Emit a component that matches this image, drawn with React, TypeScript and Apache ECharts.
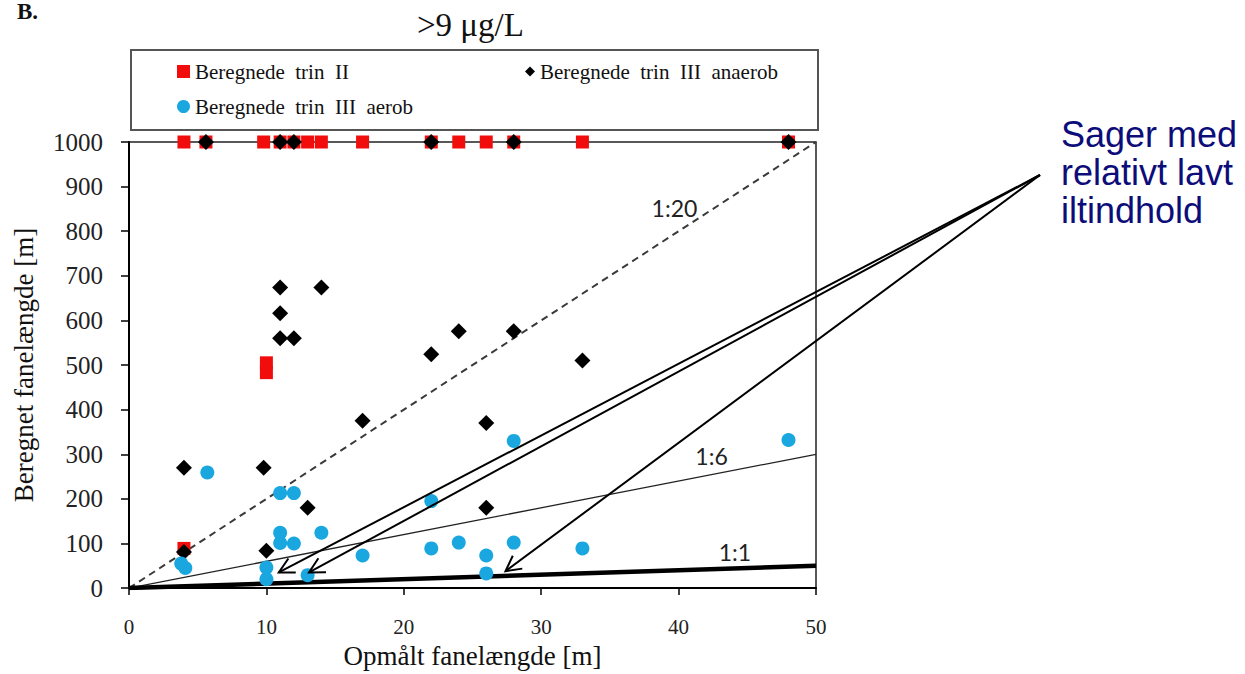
import { useEffect, useRef } from "react";
import * as echarts from "echarts";

// Series names, as they appear in the legend
const seriesNames = ["Beregnede trin II", "Beregnede trin III anaerob", "Beregnede trin III aerob"];

// [opmålt fanelængde (m), beregnet fanelængde (m)]
const trinII: [number, number][] = [
  [4, 1000], [5.6, 1000], [9.8, 1000], [11, 1000], [12, 1000], [13, 1000], [14, 1000],
  [17, 1000], [22, 1000], [24, 1000], [26, 1000], [28, 1000], [33, 1000], [48, 1000],
  [10, 505], [10, 483], [4, 89],
];

const trinIIIAnaerob: [number, number][] = [
  [5.6, 1000], [11, 1000], [12, 1000], [22, 1000], [28, 1000], [48, 1000],
  [11, 674], [14, 674], [11, 616], [11, 560], [12, 560], [17, 375],
  [4, 270], [9.8, 270], [13, 180], [10, 84], [4, 81],
  [22, 524], [24, 576], [28, 576], [33, 510], [26, 370], [26, 180],
];

const trinIIIAerob: [number, number][] = [
  [5.7, 259], [11, 213], [12, 213], [11, 124], [11, 101], [12, 100], [14, 124],
  [17, 73], [3.8, 55], [4.1, 45], [10, 46], [10, 20], [13, 29],
  [28, 330], [22, 195], [22, 89], [24, 102], [28, 102], [26, 73], [26, 33],
  [33, 89], [48, 332],
];

// Reference lines y = ratio * x
const ratios = [20, 6, 1];
const ratioLabels = ["1:20", "1:6", "1:1"];
const ratioLabelAt: [number, number][] = [[39.7, 852], [42.4, 297], [44.1, 82]];

// Axis ranges
const xRange = { min: 0, max: 50, interval: 10 };
const yRange = { min: 0, max: 1000, interval: 100 };

// Cases pointed out by the annotation arrows
const arrowTargets: [number, number][] = [[10.9, 35], [13.1, 35], [27.4, 38]];
const annotationLines = ["Sager med", "relativt lavt", "iltindhold"];

const SERIF = '"Liberation Serif", "Times New Roman", serif';
const SANS = '"Liberation Sans", Arial, sans-serif';

export default function App() {
  const ref = useRef<HTMLDivElement>(null);

  useEffect(() => {
    if (!ref.current) return;
    const chart = echarts.init(ref.current, undefined, { renderer: "svg" });

    const ratioSeries = ratios.map((r, i) => ({
      type: "line",
      name: ratioLabels[i],
      data: [[xRange.min, xRange.min * r], [xRange.max, xRange.max * r]],
      symbol: "none",
      silent: true,
      z: 1,
      lineStyle:
        r === 20
          ? { color: "#3a3a3a", width: 2, type: [7, 5] }
          : r === 1
          ? { color: "#000", width: 4.5 }
          : { color: "#222", width: 1.3 },
    }));

    const legendText = { fontFamily: SERIF, fontSize: 21, color: "#111" };
    const spaced = (name: string) => name.replace(/ /g, "  ");

    chart.setOption({
      animation: false,
      backgroundColor: "#fff",
      title: {
        text: ">9 μg/L",
        left: 412,
        top: 3,
        textStyle: { fontFamily: SERIF, fontSize: 33, fontWeight: "normal", color: "#111" },
      },
      legend: [
        {
          data: [{ name: seriesNames[0], icon: "rect" }],
          left: 177, top: 61, padding: 0, itemWidth: 13, itemHeight: 13,
          textStyle: legendText, selectedMode: false, formatter: spaced,
        },
        {
          data: [{ name: seriesNames[1], icon: "diamond" }],
          left: 525, top: 61, padding: 0, itemWidth: 10, itemHeight: 10,
          textStyle: legendText, selectedMode: false, formatter: spaced,
        },
        {
          data: [{ name: seriesNames[2], icon: "circle" }],
          left: 177, top: 96, padding: 0, itemWidth: 13, itemHeight: 13,
          textStyle: legendText, selectedMode: false, formatter: spaced,
        },
      ],
      grid: {
        left: 129, width: 687, top: 142, height: 451,
        show: true, borderColor: "#222", borderWidth: 1.5, backgroundColor: "transparent",
      },
      xAxis: {
        type: "value",
        ...xRange,
        name: "Opmålt fanelængde [m]",
        nameLocation: "middle",
        nameGap: 49,
        nameTextStyle: { fontFamily: SERIF, fontSize: 27, color: "#111" },
        axisLine: { onZero: false, lineStyle: { color: "#000", width: 2 } },
        axisTick: { show: true, inside: false, length: 7, lineStyle: { color: "#000", width: 1.5 } },
        axisLabel: { margin: 28, fontFamily: SERIF, fontSize: 21, color: "#222" },
        splitLine: { show: false },
      },
      yAxis: {
        type: "value",
        ...yRange,
        name: "Beregnet fanelængde [m]",
        nameLocation: "middle",
        nameGap: 92,
        nameTextStyle: { fontFamily: SERIF, fontSize: 27, color: "#111" },
        axisLine: { onZero: false, lineStyle: { color: "#000", width: 2 } },
        axisTick: { show: true, inside: false, length: 8, lineStyle: { color: "#000", width: 1.5 } },
        axisLabel: {
          margin: 26,
          fontFamily: SERIF,
          fontSize: 25,
          color: "#222",
          formatter: (v: number) => String(v),
        },
        splitLine: { show: false },
      },
      series: [
        ...ratioSeries,
        {
          type: "scatter",
          name: seriesNames[0],
          data: trinII,
          symbol: "rect",
          symbolSize: 13,
          itemStyle: { color: "#f20d0d", opacity: 1 },
          z: 3,
        },
        {
          type: "scatter",
          name: seriesNames[1],
          data: trinIIIAnaerob,
          symbol: "diamond",
          symbolSize: 16,
          itemStyle: { color: "#000", opacity: 1 },
          z: 4,
        },
        {
          type: "scatter",
          name: seriesNames[2],
          data: trinIIIAerob,
          symbol: "circle",
          symbolSize: 14,
          itemStyle: { color: "#1aa7e0", opacity: 1 },
          z: 5,
        },
      ],
    });

    const toPx = (p: [number, number]) => chart.convertToPixel({ gridIndex: 0 }, p) as number[];

    // Arrows from the annotation text down to the highlighted cases
    const start = [1040, 175];
    const barbLen = 17;
    const barbAngle = (28 * Math.PI) / 180;
    const arrows = arrowTargets.flatMap((t) => {
      const tip = toPx(t);
      const ang = Math.atan2(start[1] - tip[1], start[0] - tip[0]);
      const b1 = [tip[0] + barbLen * Math.cos(ang + barbAngle), tip[1] + barbLen * Math.sin(ang + barbAngle)];
      const b2 = [tip[0] + barbLen * Math.cos(ang - barbAngle), tip[1] + barbLen * Math.sin(ang - barbAngle)];
      return [
        {
          type: "line",
          z: 100,
          shape: { x1: start[0], y1: start[1], x2: tip[0], y2: tip[1] },
          style: { stroke: "#000", lineWidth: 2 },
        },
        {
          type: "polyline",
          z: 100,
          shape: { points: [b1, tip, b2] },
          style: { stroke: "#000", lineWidth: 2, fill: null },
        },
      ];
    });

    const ratioTexts = ratioLabels.map((label, i) => {
      const p = toPx(ratioLabelAt[i]);
      return {
        type: "text",
        z: 50,
        x: p[0],
        y: p[1],
        style: {
          text: label,
          fontFamily: 'Lato, "Open Sans", sans-serif',
          fontSize: 23,
          fill: "#222",
          align: "center",
          verticalAlign: "middle",
        },
      };
    });

    chart.setOption({
      graphic: [
        {
          type: "rect",
          z: 0,
          shape: { x: 131, y: 50, width: 687, height: 80 },
          style: { fill: "#fff", stroke: "#555", lineWidth: 2 },
        },
        {
          type: "text",
          x: 17,
          y: 0,
          style: { text: "B.", fontFamily: SERIF, fontSize: 23, fontWeight: "bold", fill: "#111" },
        },
        {
          type: "text",
          x: 1061,
          y: 115,
          style: {
            text: annotationLines.join("\n"),
            fontFamily: SANS,
            fontSize: 36,
            lineHeight: 38,
            fill: "#0d0d7a",
            verticalAlign: "top",
          },
        },
        ...ratioTexts,
        ...arrows,
      ],
    });

    return () => chart.dispose();
  }, []);

  return (
    <div
      ref={ref}
      style={{ position: "fixed", left: 0, top: 0, width: 1245, height: 674 }}
    />
  );
}
